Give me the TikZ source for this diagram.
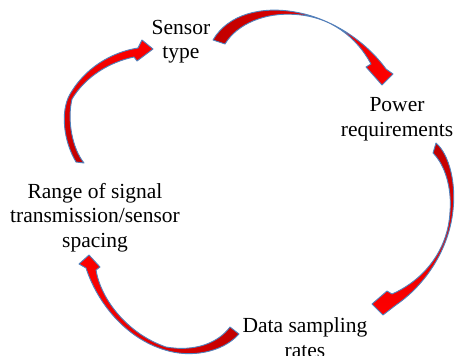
\documentclass[tikz,border=0pt]{standalone}
\usepackage{fontspec}
\setmainfont{Liberation Serif}
\definecolor{arrowdark}{HTML}{C00000}
\definecolor{arrowbright}{HTML}{FF0000}
\definecolor{arrowedge}{HTML}{4F81BD}
\begin{document}
\begin{tikzpicture}[x=1pt, y=-1pt,
  label/.style={inner sep=0pt, align=center, anchor=base,
    font=\fontsize{21.5}{24.5}\selectfont},
  blockarrow/.style={draw=arrowedge, line width=0.9pt, line join=round}]
\useasboundingbox (0,0) rectangle (456,356);
\fill[white] (0,0) rectangle (456,356);

% stage labels (anchored at the baseline of the last line)
\node[label] (sensor) at (181,59) {Sensor\\type};
\node[label] (power)  at (397,136) {Power\\requirements};
\node[label] (data)   at (305,357) {Data sampling\\rates};
\node[label] (range)  at (95,247) {Range of signal\\transmission/sensor\\spacing};

% sensor type -> power requirements
\draw[blockarrow, left color=arrowdark, right color=arrowbright]
  (213,40) .. controls (228,14) and (262,6) .. (295,12)
  .. controls (330,18) and (365,40) .. (386,69)
  -- (393,74) -- (382,85) -- (366,67) -- (371,64)
  .. controls (357,38) and (332,17) .. (296,14.5)
  .. controls (265,12) and (237,24) .. (225,44) -- cycle;

% power requirements -> data sampling rates
\draw[blockarrow, top color=arrowdark, bottom color=arrowbright]
  (436,143) .. controls (450,155) and (456,185) .. (453,210)
  .. controls (449,250) and (425,285) .. (396,305)
  -- (383,315) -- (372,304) -- (387,291) -- (392,294)
  .. controls (424,280) and (448,250) .. (450,212)
  .. controls (452,188) and (445,165) .. (433,153) -- cycle;

% data sampling rates -> range of signal
\draw[blockarrow, left color=arrowbright, right color=arrowdark]
  (239,334) .. controls (222,353) and (190,358) .. (165,350)
  .. controls (125,338) and (97,302) .. (86,268)
  -- (79,264) -- (89,255) -- (100,267) -- (96,270)
  .. controls (101,300) and (128,334) .. (166,347)
  .. controls (195,352) and (218,343) .. (230,327) -- cycle;

% range of signal -> sensor type
\draw[blockarrow, bottom color=arrowdark, top color=arrowbright]
  (76,162) .. controls (63,140) and (61,112) .. (69,96)
  .. controls (84,68) and (112,52) .. (138,48)
  -- (142,40) -- (153,49) -- (137,61) -- (134,57)
  .. controls (110,62) and (86,76) .. (72,99)
  .. controls (67,120) and (72,148) .. (84,163) -- cycle;
\end{tikzpicture}
\end{document}
